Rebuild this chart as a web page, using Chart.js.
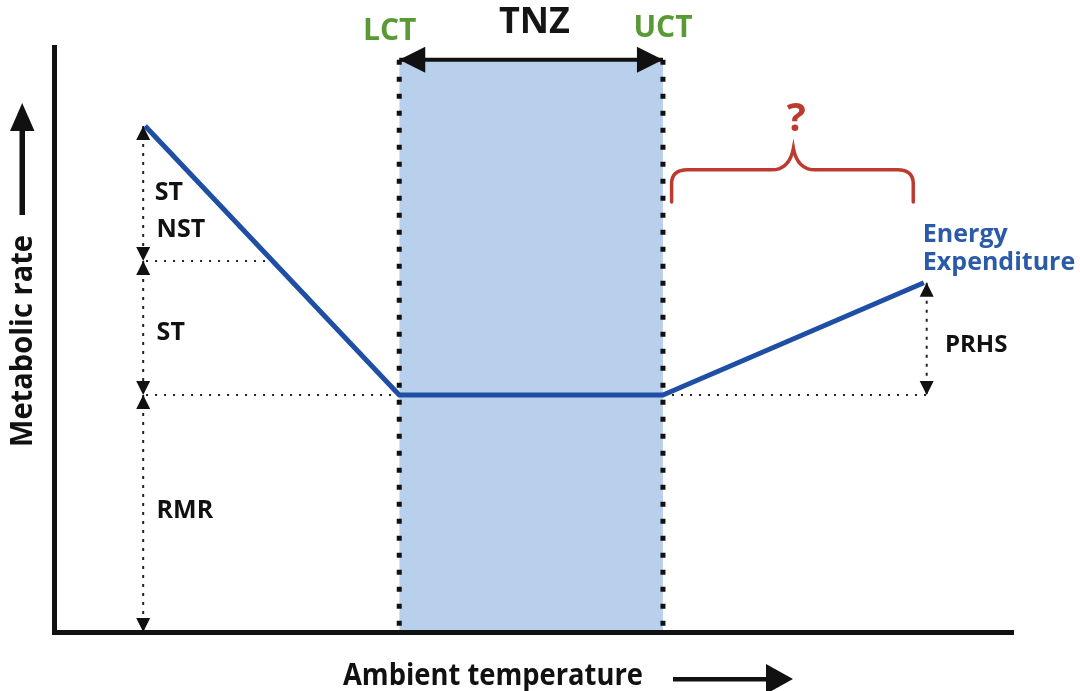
<!DOCTYPE html>
<html>
<head>
<meta charset="utf-8">
<script src="https://cdn.jsdelivr.net/npm/chart.js@4.4.1/dist/chart.umd.min.js"></script>
<style>
  html, body { margin: 0; padding: 0; background: #fff; }
  #wrap { width: 1080px; height: 691px; position: relative; }
</style>
</head>
<body>
<div id="wrap"><canvas id="chart"></canvas></div>
<script>
// ======================================================================
//  Thermoneutral zone schematic (metabolic rate vs ambient temperature)
// ======================================================================

// ---- levels (arbitrary units, 0..100 on both axes) ----
const LCT = 36;          // lower critical temperature
const UCT = 63.5;        // upper critical temperature
const RMR = 40.5;        // resting metabolic rate
const NST_LEVEL = 63.4;  // NST / ST boundary
const COLD_MAX = 86.5;   // metabolic rate at the cold end
const HEAT_MAX = 59.7;   // metabolic rate at the hot end
const TNZ_TOP = 97.8;

// ---- energy expenditure curve ----
const energyX = [9.5, LCT, UCT, 90.7];
const energyY = [COLD_MAX, RMR, RMR, HEAT_MAX];

// ---- thermoneutral zone ----
const tnzX = [LCT, UCT];
const tnzY = [TNZ_TOP, TNZ_TOP];

// ---- dotted guides ----
const guideNstX = [9.6, 22.8];
const guideRmrLeftX = [9.6, LCT];
const guideRmrRightX = [UCT, 91];

// ---- double arrows (vertical) ----
const coldArrowX = 9.3;
const coldSegments = [[COLD_MAX, NST_LEVEL], [NST_LEVEL, RMR], [RMR, 0]];
const heatArrowX = 91;
const heatSegment = [HEAT_MAX, RMR];

// ---- brace over the heat side ----
const braceX = [64.4, 77.1, 89.6];
const braceY = [73.5, 79, 82.7];

const BLUE = '#1f4fa5';
const BAND = '#b8d0ec';
const GREEN = '#5a9a35';
const RED = '#bd3a2e';
const FONT = '"Open Sans", "DejaVu Sans", sans-serif';

// text notes: data coords, x = left (or centre), y = baseline
const notes = [
  { text: 'ST',          x: 10.5, y: 73.8, size: 25, color: '#111' },
  { text: 'NST',         x: 10.7, y: 67.5, size: 25, color: '#111' },
  { text: 'ST',          x: 10.7, y: 49.9, size: 25, color: '#111' },
  { text: 'RMR',         x: 10.7, y: 19.5, size: 25, color: '#111' },
  { text: 'PRHS',        x: 92.9, y: 47.9, size: 24, color: '#111' },
  { text: 'Energy',      x: 90.6, y: 66.7, size: 25, color: '#2a5aa8' },
  { text: 'Expenditure', x: 90.6, y: 61.9, size: 25, color: '#2a5aa8' },
  { text: 'LCT', x: 35.0, y: 101.2, size: 30, color: GREEN, align: 'center' },
  { text: 'TNZ', x: 50.1, y: 102.4, size: 36, color: '#151515', align: 'center' },
  { text: 'UCT', x: 63.5, y: 101.7, size: 30, color: GREEN, align: 'center' },
  { text: '?',   x: 77.4, y: 85.6,  size: 40, color: RED, align: 'center' }
];

// ----------------------------------------------------------------------
function pts(xs, ys) {
  return xs.map((x, i) => ({ x, y: ys[i] }));
}

function lineDs(data, opts) {
  return Object.assign({
    data,
    borderColor: '#222',
    borderWidth: 2,
    pointRadius: 0,
    pointHitRadius: 0,
    fill: false,
    tension: 0
  }, opts);
}

const datasets = [];

datasets.push(lineDs(pts(energyX, energyY), {
  label: 'Energy Expenditure', borderColor: BLUE, borderWidth: 5, borderJoinStyle: 'round'
}));

// TNZ double arrow
datasets.push(lineDs(pts(tnzX, tnzY), {
  label: 'TNZ arrow', borderColor: '#111', borderWidth: 4,
  arrow: { len: 26, half: 13, color: '#111' }
}));

// vertical dotted arrows
coldSegments.forEach((seg, i) => {
  datasets.push(lineDs(pts([coldArrowX, coldArrowX], seg), {
    label: 'cold ' + i, borderDash: [3, 6], borderWidth: 2,
    arrow: { len: 14, half: 7, color: '#111' }
  }));
});
datasets.push(lineDs(pts([heatArrowX, heatArrowX], heatSegment), {
  label: 'PRHS', borderDash: [3, 6], borderWidth: 2,
  arrow: { len: 14, half: 7, color: '#111' }
}));

// horizontal dotted guides
datasets.push(lineDs(pts(guideNstX, [NST_LEVEL, NST_LEVEL]), { label: 'g1', borderDash: [2, 7], borderWidth: 2 }));
datasets.push(lineDs(pts(guideRmrLeftX, [RMR, RMR]), { label: 'g2', borderDash: [2, 7], borderWidth: 2 }));
datasets.push(lineDs(pts(guideRmrRightX, [RMR, RMR]), { label: 'g3', borderDash: [2, 7], borderWidth: 2 }));

// LCT / UCT dotted boundaries
datasets.push(lineDs(pts([LCT, LCT], [TNZ_TOP, 0]), { label: 'LCT', borderColor: '#111', borderWidth: 5, borderDash: [5, 12] }));
datasets.push(lineDs(pts([UCT, UCT], [TNZ_TOP, 0]), { label: 'UCT', borderColor: '#111', borderWidth: 5, borderDash: [5, 12] }));

// band
datasets.push(lineDs(pts(tnzX, tnzY), {
  label: 'TNZ', borderWidth: 0, borderColor: 'rgba(0,0,0,0)', backgroundColor: BAND, fill: 'origin'
}));

// ----------------------------------------------------------------------
function drawHead(ctx, fx, fy, tx, ty, o) {
  const ang = Math.atan2(ty - fy, tx - fx);
  ctx.save();
  ctx.translate(tx, ty);
  ctx.rotate(ang);
  ctx.beginPath();
  ctx.moveTo(0, 0);
  ctx.lineTo(-o.len, -o.half);
  ctx.lineTo(-o.len, o.half);
  ctx.closePath();
  ctx.fillStyle = o.color;
  ctx.fill();
  ctx.restore();
}

const decorPlugin = {
  id: 'decor',
  afterDatasetsDraw(chart) {
    const ctx = chart.ctx;
    chart.data.datasets.forEach((ds, i) => {
      if (!ds.arrow) return;
      const p = chart.getDatasetMeta(i).data;
      const a = p[0], b = p[p.length - 1];
      drawHead(ctx, b.x, b.y, a.x, a.y, ds.arrow);
      drawHead(ctx, a.x, a.y, b.x, b.y, ds.arrow);
    });
  },
  afterDraw(chart) {
    const ctx = chart.ctx;
    const xs = chart.scales.x, ys = chart.scales.y;
    const X = v => xs.getPixelForValue(v);
    const Y = v => ys.getPixelForValue(v);

    // brace
    const L = X(braceX[0]), M = X(braceX[1]), R = X(braceX[2]);
    const yb = Y(braceY[0]), yh = Y(braceY[1]), yt = Y(braceY[2]);
    ctx.save();
    ctx.strokeStyle = RED;
    ctx.lineWidth = 3.5;
    ctx.lineCap = 'round';
    ctx.beginPath();
    ctx.moveTo(L, yb);
    ctx.lineTo(L, yh + 14);
    ctx.quadraticCurveTo(L, yh, L + 16, yh);
    ctx.lineTo(M - 22, yh);
    ctx.quadraticCurveTo(M - 4, yh, M, yt);
    ctx.quadraticCurveTo(M + 4, yh, M + 22, yh);
    ctx.lineTo(R - 16, yh);
    ctx.quadraticCurveTo(R, yh, R, yh + 14);
    ctx.lineTo(R, yb);
    ctx.stroke();
    ctx.restore();

    // notes
    notes.forEach(n => {
      ctx.save();
      ctx.font = `${n.weight || 'bold'} ${n.size}px ${FONT}`;
      ctx.fillStyle = n.color;
      ctx.textAlign = n.align || 'left';
      ctx.textBaseline = 'alphabetic';
      ctx.fillText(n.text, X(n.x), Y(n.y));
      ctx.restore();
    });

    // y axis title + arrow
    ctx.save();
    ctx.fillStyle = '#111';
    ctx.font = `bold 30px ${FONT}`;
    ctx.translate(32, 341);
    ctx.rotate(-Math.PI / 2);
    ctx.textAlign = 'center';
    const wy = ctx.measureText('Metabolic rate').width;
    ctx.scale(Math.min(1, 212 / wy), 1);
    ctx.fillText('Metabolic rate', 0, 0);
    ctx.restore();

    ctx.save();
    ctx.fillStyle = '#111';
    ctx.fillRect(19.5, 125, 5.5, 90);
    ctx.beginPath();
    ctx.moveTo(22.2, 103);
    ctx.lineTo(10, 131);
    ctx.lineTo(34.5, 131);
    ctx.closePath();
    ctx.fill();
    ctx.restore();

    // x axis title + arrow
    ctx.save();
    ctx.fillStyle = '#111';
    ctx.font = `bold 30px ${FONT}`;
    ctx.textAlign = 'left';
    const wx = ctx.measureText('Ambient temperature').width;
    ctx.translate(343, 685);
    ctx.scale(Math.min(1, 300 / wx), 1);
    ctx.fillText('Ambient temperature', 0, 0);
    ctx.restore();

    ctx.save();
    ctx.fillStyle = '#111';
    ctx.fillRect(673, 677, 97, 4.5);
    ctx.beginPath();
    ctx.moveTo(793, 679);
    ctx.lineTo(766, 664);
    ctx.lineTo(766, 694);
    ctx.closePath();
    ctx.fill();
    ctx.restore();
  }
};

Chart.defaults.font.family = FONT;

new Chart(document.getElementById('chart'), {
  type: 'line',
  data: { datasets },
  options: {
    responsive: true,
    maintainAspectRatio: false,
    animation: false,
    layout: { padding: { left: 54, right: 67, top: 47, bottom: 59 } },
    plugins: {
      legend: { display: false },
      tooltip: { enabled: false }
    },
    scales: {
      x: {
        type: 'linear', min: 0, max: 100,
        grid: { display: false, drawTicks: false },
        ticks: { display: false },
        border: { display: true, color: '#111', width: 5, z: 1 }
      },
      y: {
        type: 'linear', min: 0, max: 100,
        grid: { display: false, drawTicks: false },
        ticks: { display: false },
        border: { display: true, color: '#111', width: 5, z: 1 }
      }
    }
  },
  plugins: [decorPlugin]
});
</script>
</body>
</html>
